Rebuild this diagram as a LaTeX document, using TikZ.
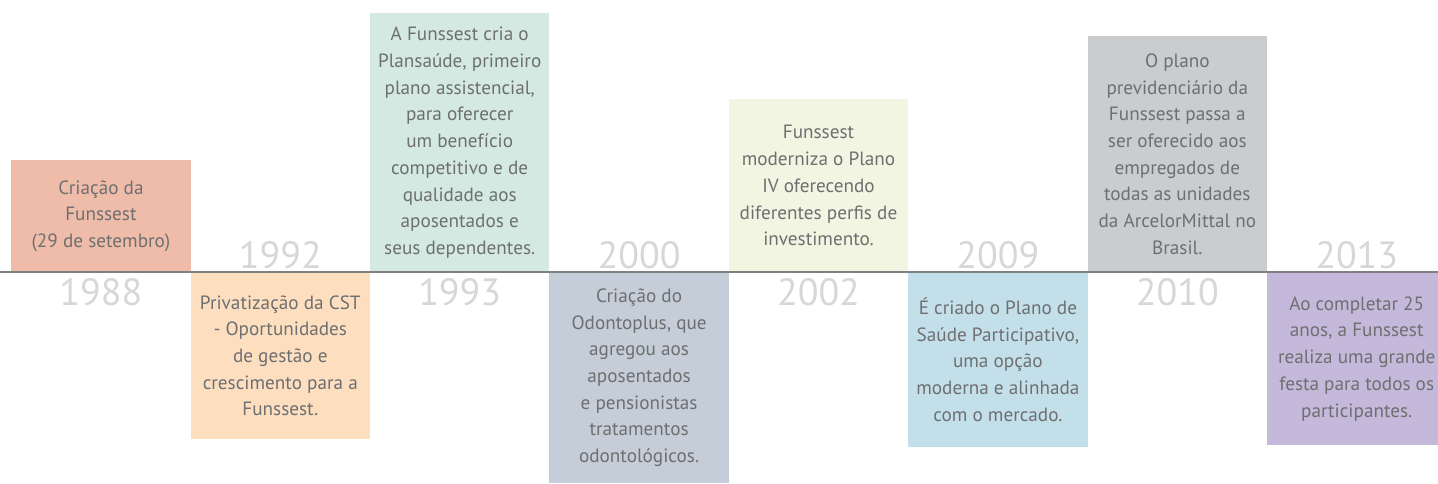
\documentclass[tikz,border=0pt]{standalone}
\usepackage{fontspec}
\setmainfont{PT Sans}
\usepackage{tikz}
\usetikzlibrary{positioning}
\definecolor{c1988}{HTML}{EFBCA9}
\definecolor{c1992}{HTML}{FDDFC0}
\definecolor{c1993}{HTML}{D4E9E2}
\definecolor{c2000}{HTML}{C4CDD8}
\definecolor{c2002}{HTML}{F1F5E1}
\definecolor{c2009}{HTML}{C3E0EA}
\definecolor{c2010}{HTML}{CBCCCE}
\definecolor{c2013}{HTML}{C4B9DA}
\definecolor{txt_gray}{HTML}{6E6F71}
\definecolor{year_gray}{HTML}{D6D7D9}
\definecolor{line_gray}{HTML}{808080}
\tikzset{my_timeline/.style={x=1pt,y=-1pt}}
\tikzset{my_event/.style={rectangle, inner sep=0pt, minimum width=179.4pt, anchor=north west, align=center, text=txt_gray, font=\fontsize{19.2}{26.7}\selectfont}}
\tikzset{my_year/.style={inner sep=0pt, text=year_gray, font=\fontsize{38}{38}\selectfont}}
\tikzset{my_axis/.style={line_gray, line width=1.3pt}}

\begin{document}
\begin{tikzpicture}[my_timeline]
    \useasboundingbox (0,0) rectangle (1438,483);
    %\draw[help lines, step=100] (0,0) grid (1438,483);
    \node[my_event, fill=c1988, minimum height=112pt] (e1988) at (11,160)
        {Criação da\\Funssest\\(29 de setembro)};
    \node[my_event, fill=c1992, minimum height=167pt] (e1992) at (190.4,272)
        {Privatização da CST\\- Oportunidades\\de gestão e\\crescimento para a\\Funssest.};
    \node[my_event, fill=c1993, minimum height=259pt] (e1993) at (369.8,13)
        {A Funssest cria o\\Plansaúde, primeiro\\plano assistencial,\\para oferecer\\um benefício\\competitivo e de\\qualidade aos\\aposentados e\\seus dependentes.};
    \node[my_event, fill=c2000, minimum height=211pt] (e2000) at (549.2,272)
        {Criação do\\Odontoplus, que\\agregou aos\\aposentados\\e pensionistas\\tratamentos\\odontológicos.};
    \node[my_event, fill=c2002, minimum height=173pt] (e2002) at (728.6,99)
        {Funssest\\moderniza o Plano\\IV oferecendo\\diferentes perfis de\\investimento.};
    \node[my_event, fill=c2009, minimum height=175pt] (e2009) at (908,272)
        {É criado o Plano de\\Saúde Participativo,\\uma opção\\moderna e alinhada\\com o mercado.};
    \node[my_event, fill=c2010, minimum height=236pt] (e2010) at (1087.4,36)
        {O plano\\previdenciário da\\Funssest passa a\\ser oferecido aos\\empregados de\\todas as unidades\\da ArcelorMittal no\\Brasil.};
    \node[my_event, fill=c2013, minimum height=173pt] (e2013) at (1266.8,272)
        {Ao completar 25\\anos, a Funssest\\realiza uma grande\\festa para todos os\\participantes.};

    \coordinate (axis_l) at (0,272);
    \coordinate (axis_r) at (1438,272);
    \draw[my_axis] (axis_l) -- (axis_r);

    \node[my_year, below=6pt of e1988.south] (y1988) {1988};
    \node[my_year, above=3pt of e1992.north] (y1992) {1992};
    \node[my_year, below=6pt of e1993.south] (y1993) {1993};
    \node[my_year, above=3pt of e2000.north] (y2000) {2000};
    \node[my_year, below=6pt of e2002.south] (y2002) {2002};
    \node[my_year, above=3pt of e2009.north] (y2009) {2009};
    \node[my_year, below=6pt of e2010.south] (y2010) {2010};
    \node[my_year, above=3pt of e2013.north] (y2013) {2013};
\end{tikzpicture}
\end{document}
